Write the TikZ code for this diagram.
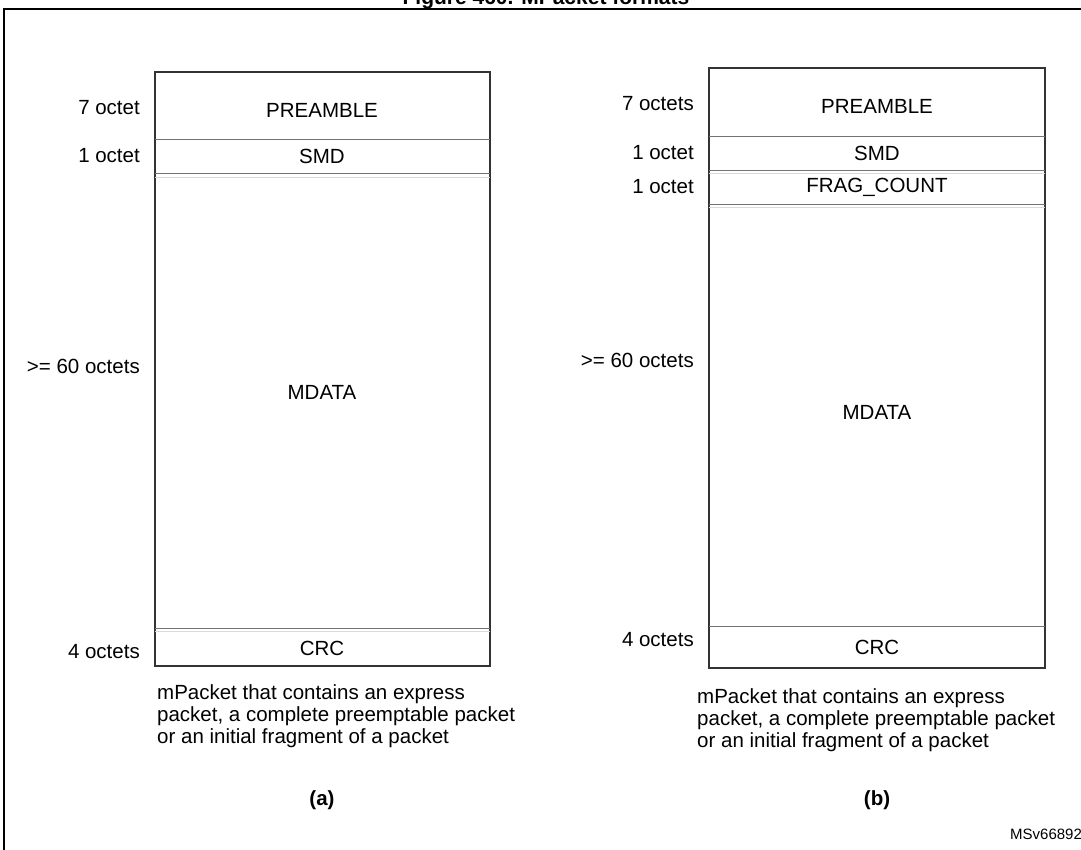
\documentclass[tikz,border=0pt]{standalone}
\usepackage{fontspec}
\setmainfont{Liberation Sans}
\begin{document}
\begin{tikzpicture}[x=1pt,y=-1pt,
  txt/.style={inner sep=0pt,font=\fontsize{20.5}{24}\selectfont},
  lbl/.style={txt,anchor=east},
  captxt/.style={txt,anchor=north west,align=left,font=\fontsize{20.5}{22}\selectfont},
  box/.style={draw=black!80,line width=1.5pt},
  sep/.style={draw=black!55,line width=0.8pt}]
\useasboundingbox (0,0) rectangle (1081,849);
\node[inner sep=0pt,anchor=base,font=\bfseries\fontsize{21}{24}\selectfont] (title) at (546,4) {Figure 460. MPacket formats};
\draw[line width=1.5pt] (4,1000) -- (4,9) -- (1200,9);
% left box
\draw[box] (155,72) rectangle (490,666);
\draw[sep] (155,139) -- (490,139);
\draw[sep] (155,173) -- (490,173);
\draw[black!15,line width=0.6pt] (155,177) -- (490,177);
\draw[sep] (155,628) -- (490,628);
\draw[black!15,line width=0.6pt] (155,631) -- (490,631);
\node[txt] (pa) at (322,110) {PREAMBLE};
\node[txt] (sa) at (322,156) {SMD};
\node[txt] (ma) at (322,392) {MDATA};
\node[txt] (ca) at (322,648) {CRC};
\node[lbl] (l1) at (140,108) {7 octet};
\node[lbl] (l2) at (140,156) {1 octet};
\node[lbl] (l3) at (140,366) {>= 60 octets};
\node[lbl] (l4) at (140,652) {4 octets};
\node[captxt] (capa) at (157,684) {mPacket that contains an express\\packet, a complete preemptable packet\\or an initial fragment of a packet};
\node[txt,font=\bfseries\fontsize{20.5}{24}\selectfont] (a) at (322,800) {(a)};
% right box
\draw[box] (709,68) rectangle (1045,668);
\draw[sep] (709,136) -- (1045,136);
\draw[sep] (709,170) -- (1045,170);
\draw[black!15,line width=0.6pt] (709,173) -- (1045,173);
\draw[sep] (709,204) -- (1045,204);
\draw[black!15,line width=0.6pt] (709,207) -- (1045,207);
\draw[sep] (709,626) -- (1045,626);
\node[txt] (pb) at (877,106) {PREAMBLE};
\node[txt] (sb) at (877,153) {SMD};
\node[txt] (fb) at (877,187) {FRAG\_COUNT};
\node[txt] (mb) at (877,412) {MDATA};
\node[txt] (cb) at (877,647) {CRC};
\node[lbl] (r1) at (694,104) {7 octets};
\node[lbl] (r2) at (694,153) {1 octet};
\node[lbl] (r3) at (694,187) {1 octet};
\node[lbl] (r4) at (694,360) {>= 60 octets};
\node[lbl] (r5) at (694,640) {4 octets};
\node[captxt] (capb) at (697,688) {mPacket that contains an express\\packet, a complete preemptable packet\\or an initial fragment of a packet};
\node[txt,font=\bfseries\fontsize{20.5}{24}\selectfont] (b) at (877,800) {(b)};
\node[inner sep=0pt,anchor=west,font=\fontsize{15}{18}\selectfont] (id) at (1010,834) {MSv66892V1};
\end{tikzpicture}
\end{document}
